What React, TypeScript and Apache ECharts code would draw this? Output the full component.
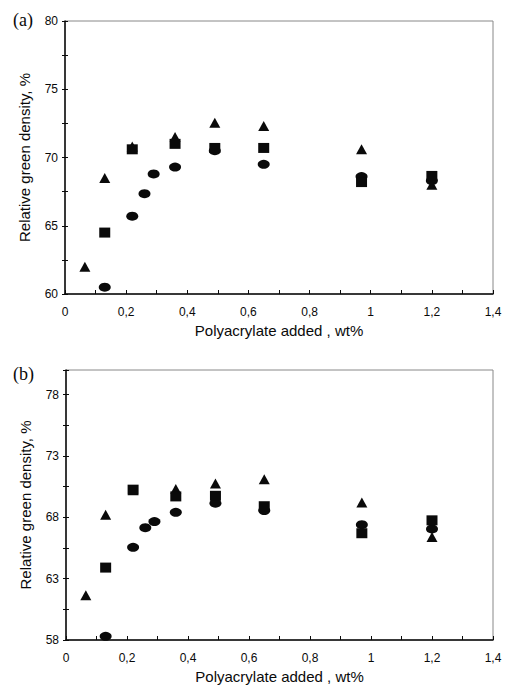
import React, { useEffect, useRef } from "react";
import * as echarts from "echarts";

// Shared x positions (wt% polyacrylate)
const triX = [0.065, 0.13, 0.22, 0.36, 0.49, 0.65, 0.97, 1.2];
const sqX = [0.13, 0.22, 0.36, 0.49, 0.65, 0.97, 1.2];
const circX = [0.13, 0.22, 0.26, 0.29, 0.36, 0.49, 0.65, 0.97, 1.2];

// Panel (a)
const triA = [62.0, 68.5, 70.8, 71.5, 72.55, 72.3, 70.6, 68.0];
const sqA = [64.5, 70.6, 71.0, 70.7, 70.7, 68.2, 68.65];
const circA = [60.5, 65.7, 67.35, 68.8, 69.3, 70.5, 69.5, 68.6, 68.3];

// Panel (b)
const triB = [61.65, 68.2, 70.2, 70.3, 70.75, 71.1, 69.2, 66.4];
const sqB = [63.9, 70.25, 69.7, 69.75, 68.9, 66.7, 67.75];
const circB = [58.3, 65.55, 67.15, 67.65, 68.4, 69.15, 68.55, 67.4, 67.05];

const panelLabels = ["(a)", "(b)"];
const xTitle = "Polyacrylate added , wt%";
const yTitle = "Relative green density, %";

const sans = "'Liberation Sans', Arial, sans-serif";
const ink = "#0a0a0a";

const zip = (xs: number[], ys: number[]) => xs.map((x, i) => [x, ys[i]]);

export default function App() {
  const ref = useRef<HTMLDivElement>(null);
  useEffect(() => {
    if (!ref.current) return;
    const chart = echarts.init(ref.current, null, { renderer: "svg" });
    const grids = [
      { left: 65, top: 21, width: 428, height: 273 },
      { left: 66, top: 370, width: 427, height: 273 },
    ];
    const yMins = [60, 58];
    const xAxes: any[] = [];
    const yAxes: any[] = [];
    grids.forEach((g, i) => {
      xAxes.push({
        type: "value",
        gridIndex: i,
        min: 0,
        max: 1.4,
        interval: 0.2,
        name: xTitle,
        nameLocation: "middle",
        nameGap: 29,
        nameTextStyle: { fontFamily: sans, fontSize: 15, color: ink },
        axisLine: { show: true, lineStyle: { color: ink, width: 1.5 } },
        axisTick: { show: true, inside: true, length: 4, lineStyle: { color: ink } },
        minorTick: { show: true, splitNumber: 2, length: 4, lineStyle: { color: ink } },
        splitLine: { show: false },
        axisLabel: {
          fontFamily: sans,
          fontSize: 12,
          color: ink,
          margin: 12,
          formatter: (v: number) => String(Math.round(v * 10) / 10).replace(".", ","),
        },
      });
      // main y axis (labels, outside ticks)
      yAxes.push({
        type: "value",
        gridIndex: i,
        min: yMins[i],
        max: 80,
        interval: 5,
        name: yTitle,
        nameLocation: "middle",
        nameGap: 33,
        nameTextStyle: { fontFamily: sans, fontSize: 15, color: ink },
        axisLine: { show: true, lineStyle: { color: ink, width: 1.5 } },
        axisTick: { show: true, inside: false, length: 3, lineStyle: { color: ink } },
        minorTick: { show: true, splitNumber: 2, length: 3, lineStyle: { color: ink } },
        splitLine: { show: false },
        axisLabel: {
          fontFamily: sans,
          fontSize: 12,
          color: ink,
          margin: 7,
          showMaxLabel: i === 0,
        },
      });
    });
    // inner tick halves so ticks cross the y axis
    grids.forEach((g, i) => {
      yAxes.push({
        type: "value",
        gridIndex: i,
        position: "left",
        min: yMins[i],
        max: 80,
        interval: 5,
        axisLine: { show: false },
        axisTick: { show: true, inside: true, length: 3, lineStyle: { color: ink } },
        minorTick: { show: true, splitNumber: 2, length: 3, lineStyle: { color: ink } },
        splitLine: { show: false },
        axisLabel: { show: false },
      });
    });

    const mk = (name: string, data: number[][], idx: number, symbol: string, size: number[]) => ({
      name,
      type: "scatter",
      xAxisIndex: idx,
      yAxisIndex: idx,
      data,
      symbol,
      symbolSize: size,
      itemStyle: { color: ink, opacity: 1 },
      z: symbol === "rect" ? 4 : symbol === "triangle" ? 3 : 2,
    });

    const sets = [
      [circA, triA, sqA],
      [circB, triB, sqB],
    ];
    const series: any[] = [];
    sets.forEach((s, i) => {
      series.push(mk("circle", zip(circX, s[0]), i, "circle", [12, 9]));
      series.push(mk("triangle", zip(triX, s[1]), i, "triangle", [11, 10]));
      series.push(mk("square", zip(sqX, s[2]), i, "rect", [11, 10]));
    });

    chart.setOption({
      animation: false,
      backgroundColor: "#fff",
      grid: grids.map((g) => ({ ...g, show: true, borderColor: "#888", borderWidth: 1, backgroundColor: "transparent" })),
      xAxis: xAxes,
      yAxis: yAxes,
      series,
      graphic: [
        {
          type: "text",
          left: 13,
          top: 11,
          style: { text: panelLabels[0], font: "18px 'Liberation Serif', 'Times New Roman', serif", fill: ink },
        },
        {
          type: "text",
          left: 13,
          top: 365,
          style: { text: panelLabels[1], font: "18px 'Liberation Serif', 'Times New Roman', serif", fill: ink },
        },
      ],
    });
    return () => chart.dispose();
  }, []);
  return (
    <div
      ref={ref}
      style={{ position: "absolute", left: 0, top: 0, width: 509, height: 685, background: "#fff" }}
    />
  );
}
